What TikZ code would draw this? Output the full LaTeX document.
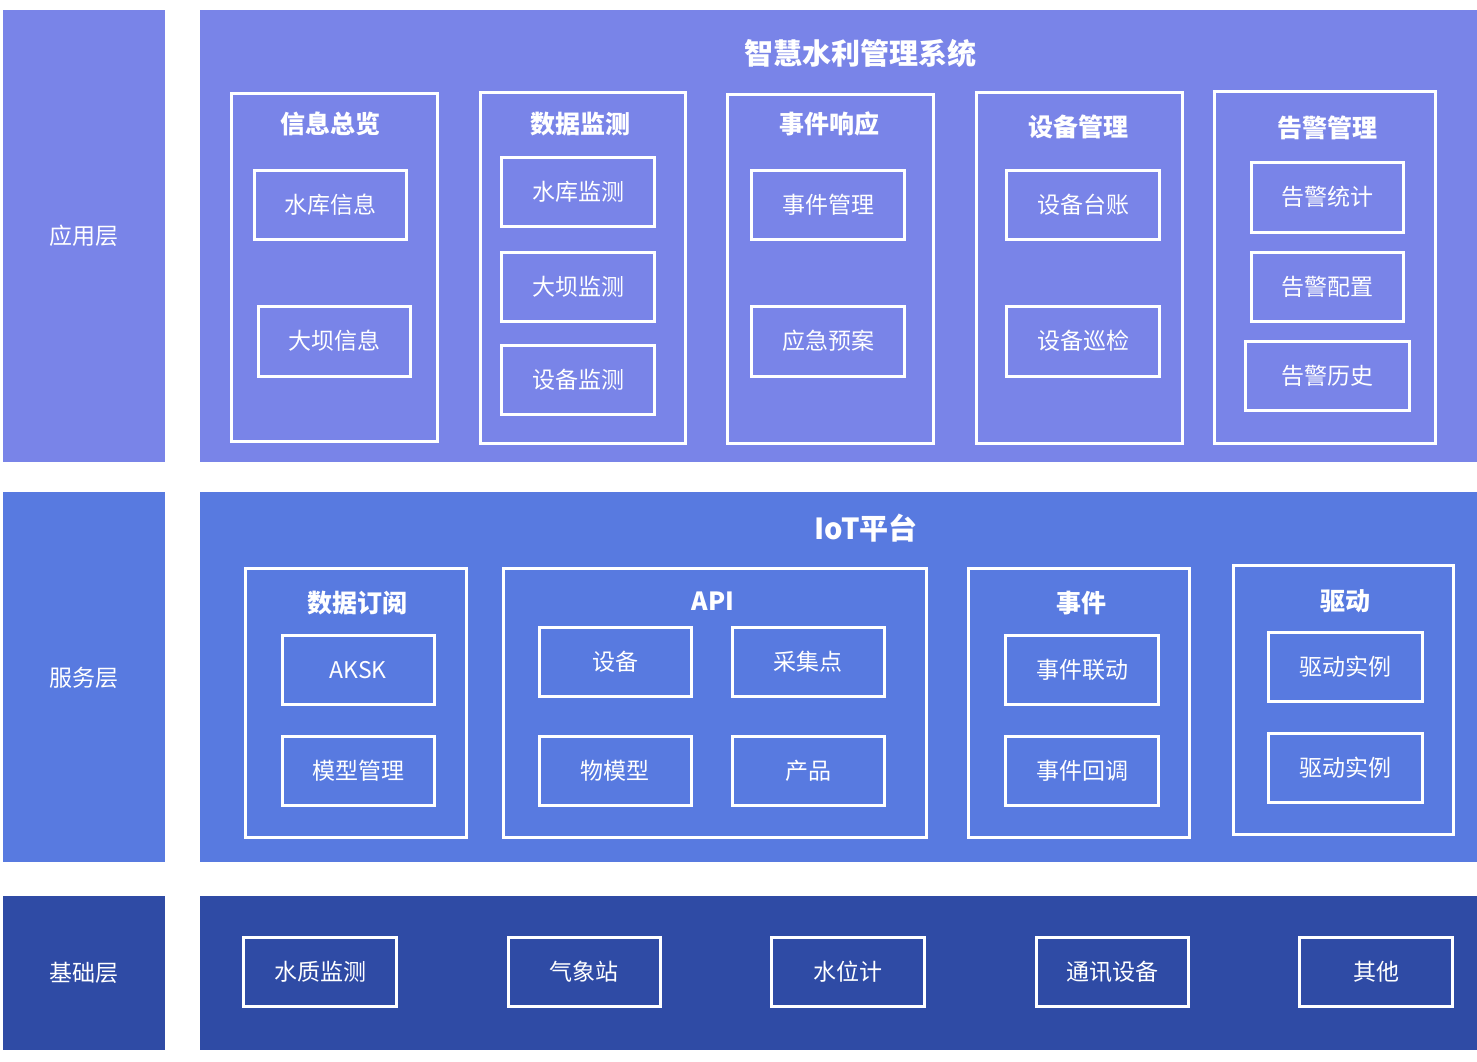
\documentclass[tikz,border=0pt]{standalone}
\usepackage{fontspec}
\setmainfont{Noto Sans CJK SC}
\definecolor{appc}{RGB}{121,132,232}
\definecolor{srvc}{RGB}{88,122,224}
\definecolor{basec}{RGB}{47,75,165}
\begin{document}
\begin{tikzpicture}[x=1pt,y=-1pt,
  layer/.style={anchor=north west,inner sep=0pt,outer sep=0pt},
  grp/.style={draw=white,line width=3pt,anchor=north west,inner sep=0pt},
  sub/.style={draw=white,line width=3pt,text=white,font=\fontsize{23}{23}\selectfont,inner sep=0pt},
  gtitle/.style={text=white,font=\fontsize{25}{25}\selectfont\bfseries},
  ltitle/.style={text=white,font=\fontsize{29}{29}\selectfont\bfseries},
  lname/.style={text=white,font=\fontsize{23}{23}\selectfont}]
\fill[white] (0,0) rectangle (1477,1062);
\useasboundingbox (0,0) rectangle (1477,1062);
% layer backgrounds
\fill[appc] (3,10) rectangle (165,462);
\fill[appc] (200,10) rectangle (1477,462);
\fill[srvc] (3,492) rectangle (165,862);
\fill[srvc] (200,492) rectangle (1477,862);
\fill[basec] (3,896) rectangle (165,1050);
\fill[basec] (200,896) rectangle (1477,1050);
\node[lname] (lapp) at (84,236) {应用层};
\node[lname] (lsrv) at (84,678) {服务层};
\node[lname] (lbase) at (84,973) {基础层};
% ===== application layer
\node[ltitle] (apptitle) at (860,53) {智慧水利管理系统};
\node[grp,minimum width=206,minimum height=348] (g1) at (230,92) {};
\node[gtitle] (g1t) at (330,124) {信息总览};
\node[sub,minimum width=152,minimum height=69] (a11) at (330,205) {水库信息};
\node[sub,minimum width=152,minimum height=70] (a12) at (334,341) {大坝信息};
\node[grp,minimum width=205,minimum height=351] (g2) at (479,91) {};
\node[gtitle] (g2t) at (580,124) {数据监测};
\node[sub,minimum width=153,minimum height=69] (a21) at (578,192) {水库监测};
\node[sub,minimum width=153,minimum height=69] (a22) at (578,287) {大坝监测};
\node[sub,minimum width=153,minimum height=69] (a23) at (578,380) {设备监测};
\node[grp,minimum width=206,minimum height=349] (g3) at (726,93) {};
\node[gtitle] (g3t) at (829,124) {事件响应};
\node[sub,minimum width=153,minimum height=69] (a31) at (828,205) {事件管理};
\node[sub,minimum width=153,minimum height=70] (a32) at (828,341) {应急预案};
\node[grp,minimum width=206,minimum height=351] (g4) at (975,91) {};
\node[gtitle] (g4t) at (1078,127) {设备管理};
\node[sub,minimum width=153,minimum height=69] (a41) at (1083,205) {设备台账};
\node[sub,minimum width=153,minimum height=70] (a42) at (1083,341) {设备巡检};
\node[grp,minimum width=221,minimum height=352] (g5) at (1213,90) {};
\node[gtitle] (g5t) at (1327,128) {告警管理};
\node[sub,minimum width=152,minimum height=70] (a51) at (1327,197) {告警统计};
\node[sub,minimum width=152,minimum height=69] (a52) at (1327,287) {告警配置};
\node[sub,minimum width=164,minimum height=69] (a53) at (1327,376) {告警历史};
% ===== service layer
\node[ltitle] (srvtitle) at (866,528) {IoT平台};
\node[grp,minimum width=221,minimum height=269] (s1) at (244,567) {};
\node[gtitle] (s1t) at (357,603) {数据订阅};
\node[sub,minimum width=152,minimum height=69] (b11) at (358,670) {AKSK};
\node[sub,minimum width=152,minimum height=69] (b12) at (358,771) {模型管理};
\node[grp,minimum width=423,minimum height=269] (s2) at (502,567) {};
\node[gtitle] (s2t) at (713,601) {API};
\node[sub,minimum width=152,minimum height=69] (b21) at (615,662) {设备};
\node[sub,minimum width=152,minimum height=69] (b22) at (808,662) {采集点};
\node[sub,minimum width=152,minimum height=69] (b23) at (615,771) {物模型};
\node[sub,minimum width=152,minimum height=69] (b24) at (808,771) {产品};
\node[grp,minimum width=221,minimum height=269] (s3) at (967,567) {};
\node[gtitle] (s3t) at (1081,603) {事件};
\node[sub,minimum width=153,minimum height=69] (b31) at (1082,670) {事件联动};
\node[sub,minimum width=153,minimum height=69] (b32) at (1082,771) {事件回调};
\node[grp,minimum width=220,minimum height=269] (s4) at (1232,564) {};
\node[gtitle] (s4t) at (1345,601) {驱动};
\node[sub,minimum width=154,minimum height=69] (b41) at (1345,667) {驱动实例};
\node[sub,minimum width=154,minimum height=69] (b42) at (1345,768) {驱动实例};
% ===== base layer
\node[sub,minimum width=153,minimum height=69] (c1) at (320,972) {水质监测};
\node[sub,minimum width=152,minimum height=69] (c2) at (584,972) {气象站};
\node[sub,minimum width=153,minimum height=69] (c3) at (848,972) {水位计};
\node[sub,minimum width=152,minimum height=69] (c4) at (1112,972) {通讯设备};
\node[sub,minimum width=153,minimum height=69] (c5) at (1376,972) {其他};
\end{tikzpicture}
\end{document}
